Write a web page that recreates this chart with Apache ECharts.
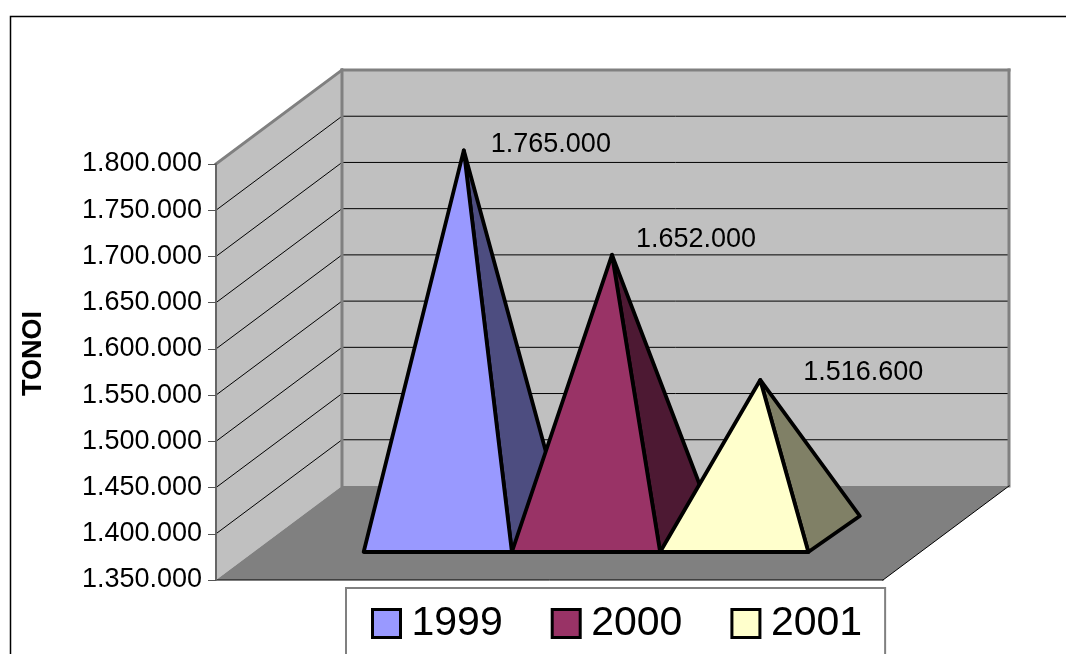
<!DOCTYPE html>
<html>
<head>
<meta charset="utf-8">
<style>html,body{margin:0;padding:0;background:#fff}#chart{width:1066px;height:654px}</style>
<script src="https://cdn.jsdelivr.net/npm/echarts@6/dist/echarts.min.js"></script>
</head>
<body>
<div id="chart"></div>
<script>
// Annual tonnage, one pyramid per year
const years = ['1999', '2000', '2001'];
const tonnes = [1765000, 1652000, 1516600];
const axisMin = 1350000;
const axisMax = 1800000;
const axisStep = 50000;
const yTitle = 'TONOI';

const frontColors = ['#9999FF', '#993366', '#FFFFCC'];
const sideColors = ['#4D4D80', '#4D1933', '#808066'];

const FONT = '"Liberation Sans", Arial, sans-serif';
// Oblique projection: pixel shift for floor depth, and for a pyramid's faces
const WALL = [126, -94];
const BASE_FRONT = [36.5, -28];
const BASE_BACK = [88, -64];
const BASE_MID = [62.5, -46];
// Where the data labels sit relative to each apex
const LABEL_SHIFT = [[27, -6], [24, -15], [43, -7]];
const FIRST_PYRAMID_SERIES = 3;

const fmt = v => String(Math.round(v)).replace(/\B(?=(\d{3})+$)/g, '.');
const shift = (p, d) => [p[0] + d[0], p[1] + d[1]];
const ticks = [];
for (let v = axisMin; v <= axisMax; v += axisStep) ticks.push(v);

function poly(points, fill, stroke, lineWidth) {
  return {
    type: 'polygon',
    shape: { points },
    style: { fill, stroke, lineWidth, lineJoin: 'round' }
  };
}
function seg(a, b, stroke, lineWidth) {
  return {
    type: 'line',
    shape: { x1: a[0], y1: a[1], x2: b[0], y2: b[1] },
    style: { stroke, lineWidth, lineCap: 'square' }
  };
}
function corners(api) {
  const bl = api.coord([0, axisMin]), br = api.coord([4.5, axisMin]);
  const tl = api.coord([0, axisMax]), tr = api.coord([4.5, axisMax]);
  return { bl, br, tl, bbl: shift(bl, WALL), bbr: shift(br, WALL), btl: shift(tl, WALL), btr: shift(tr, WALL) };
}

// Side wall, back wall and floor fills
function renderRoom(params, api) {
  const c = corners(api);
  return {
    type: 'group',
    children: [
      poly([c.bl, c.tl, c.btl, c.bbl], '#C0C0C0', null, 0),
      poly([c.bbl, c.btl, c.btr, c.bbr], '#C0C0C0', null, 0),
      poly([c.bl, c.br, c.bbr, c.bbl], '#808080', null, 0)
    ]
  };
}

// One gridline across the side wall and the back wall
function renderGrid(params, api) {
  const v = api.value(0);
  const a = api.coord([0, v]), b = shift(a, WALL), c = shift(api.coord([4.5, v]), WALL);
  return {
    type: 'group',
    children: [seg(a, b, '#000', 1), seg(b, c, '#000', 1)]
  };
}

// Wall edges sit over the gridlines; the floor edges are thin and black
function renderEdges(params, api) {
  const c = corners(api);
  return {
    type: 'group',
    children: [
      seg(c.tl, c.btl, '#808080', 3),
      seg(c.btl, c.btr, '#808080', 3),
      seg(c.btl, c.bbl, '#808080', 3),
      seg(c.btr, c.bbr, '#808080', 3),
      seg(c.bl, c.br, '#000', 1),
      seg(c.br, c.bbr, '#000', 1)
    ]
  };
}

// Pyramid: visible right face first, then the front face, then the value label
function renderPyramid(params, api) {
  const i = params.seriesIndex - FIRST_PYRAMID_SERIES;
  const x0 = api.value(0);
  const value = api.value(1);
  const floorL = api.coord([x0, axisMin]);
  const floorR = api.coord([x0 + 1, axisMin]);
  const top = api.coord([x0 + 0.5, value]);
  const fl = shift(floorL, BASE_FRONT);
  const fr = shift(floorR, BASE_FRONT);
  const br = shift(floorR, BASE_BACK);
  const apex = shift(top, BASE_MID);
  return {
    type: 'group',
    children: [
      poly([fr, br, apex], sideColors[i], '#000', 3.8),
      poly([fl, fr, apex], frontColors[i], '#000', 3.8),
      {
        type: 'text',
        style: {
          text: fmt(value),
          x: apex[0] + LABEL_SHIFT[i][0],
          y: apex[1] + LABEL_SHIFT[i][1],
          fill: '#000',
          font: '27px ' + FONT,
          textAlign: 'left',
          textVerticalAlign: 'middle'
        }
      }
    ]
  };
}

const series = [
  { type: 'custom', name: 'room', silent: true, clip: false, renderItem: renderRoom,
    data: [[0, axisMin]], encode: { x: 0, y: 1 }, z: 1 },
  { type: 'custom', name: 'grid', silent: true, clip: false, renderItem: renderGrid,
    data: ticks.slice(1, -1).map(v => [v]), encode: { y: 0 }, z: 2 },
  { type: 'custom', name: 'edges', silent: true, clip: false, renderItem: renderEdges,
    data: [[0, axisMin]], encode: { x: 0, y: 1 }, z: 3 }
];
years.forEach((y, i) => {
  series.push({
    type: 'custom',
    name: y,
    clip: false,
    renderItem: renderPyramid,
    itemStyle: { color: frontColors[i] },
    data: [[0.75 + i, tonnes[i]]],
    encode: { x: 0, y: 1 },
    z: 4 + i
  });
});

const chart = echarts.init(document.getElementById('chart'), null, { renderer: 'canvas' });
chart.setOption({
  animation: false,
  backgroundColor: '#fff',
  graphic: [{
    type: 'rect',
    z: -1,
    shape: { x: 10.5, y: 16.5, width: 1200, height: 800 },
    style: { fill: '#fff', stroke: '#000', lineWidth: 1.5 }
  }],
  grid: { left: 216, top: 164, width: 667, height: 416, containLabel: false },
  xAxis: { type: 'value', min: 0, max: 4.5, show: false },
  yAxis: {
    type: 'value',
    min: axisMin,
    max: axisMax,
    interval: axisStep,
    z: 8,
    name: yTitle,
    nameLocation: 'middle',
    nameGap: 169,
    nameRotate: 90,
    nameTextStyle: {
      color: '#000', fontFamily: FONT, fontWeight: 'bold', fontSize: 27,
      padding: [0, 0, 0, 37]
    },
    axisLine: { show: true, lineStyle: { color: '#666', width: 2 } },
    axisTick: { show: true, length: 8, lineStyle: { color: '#555', width: 1 } },
    splitLine: { show: false },
    axisLabel: {
      color: '#000',
      fontFamily: FONT,
      fontSize: 27,
      margin: 14,
      padding: [2, 0, 0, 0],
      formatter: fmt
    }
  },
  legend: {
    data: years,
    left: 346,
    top: 588,
    orient: 'horizontal',
    icon: 'rect',
    itemWidth: 28,
    itemHeight: 28,
    itemGap: 48,
    padding: [15, 23, 40, 25],
    borderColor: '#808080',
    borderWidth: 2,
    backgroundColor: '#fff',
    itemStyle: { borderColor: '#000', borderWidth: 3 },
    textStyle: { color: '#000', fontFamily: FONT, fontSize: 41, padding: [0, 0, 0, 6] },
    selectedMode: false
  },
  series
});
</script>
</body>
</html>
